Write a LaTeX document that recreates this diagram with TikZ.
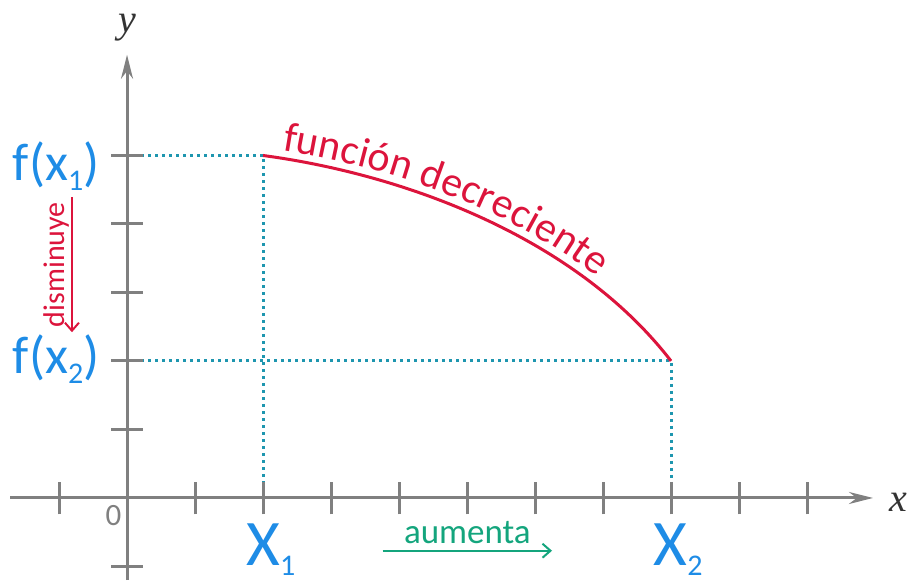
\documentclass[tikz,border=0pt]{standalone}
\usepackage{fontspec}
\usepackage{tikz}
\usetikzlibrary{positioning,arrows.meta,decorations.text}
\newfontfamily\calib{Carlito}
\newfontfamily\tms{Liberation Serif}
\definecolor{axisgray}{RGB}{128,128,128}
\definecolor{lblblue}{RGB}{30,140,230}
\definecolor{curvered}{RGB}{220,20,60}
\definecolor{dotteal}{RGB}{30,150,175}
\definecolor{txtgreen}{RGB}{20,165,125}
\newcommand{\lsub}[1]{\raisebox{-5pt}{\fontsize{15}{15}\selectfont #1}}
\tikzset{
  axis/.style  ={draw=axisgray, line width=1.5pt},
  axtip/.style ={-{Stealth[length=12pt,width=6pt]}},
  guide/.style ={draw=dotteal, line width=1.5pt, dash pattern=on 1.5pt off 2pt},
  curve/.style ={draw=curvered, line width=1.5pt},
  flbl/.style  ={font=\calib\fontsize{26.5}{28}\selectfont, text=lblblue, inner sep=0pt},
  xlbl/.style  ={font=\calib\fontsize{32.5}{34}\selectfont, text=lblblue, inner sep=0pt},
  axlbl/.style ={font=\tms\itshape\fontsize{20}{22}\selectfont, text=black!80, inner sep=0pt},
  redarr/.style={{Straight Barb[length=4pt,width=7pt]}-, draw=curvered, line width=1pt},
  grnarr/.style={-{Straight Barb[length=4pt,width=7pt]}, draw=txtgreen, line width=1pt},
}

\begin{document}
\begin{tikzpicture}[x=34pt,y=34.25pt]
\useasboundingbox (-1.868,-1.285) rectangle (11.544,7.270);
\coordinate (O)  at (0,0);
\coordinate (P1) at (2,5);
\coordinate (P2) at (8,2);
\coordinate (A1) at (2,0);
\coordinate (A2) at (8,0);
\coordinate (B1) at (0,5);
\coordinate (B2) at (0,2);

% dotted guides
\draw[guide] (B1) -- (P1) -- (A1);
\draw[guide] (B2) -- (P2) -- (A2);

% axes and ticks
\coordinate (xs) at (-1.72,0);  \coordinate (xe) at (10.97,0);
\coordinate (ys) at (0,-1.2);   \coordinate (ye) at (0,6.47);
\draw[axis,axtip] (xs) -- (xe);
\draw[axis,axtip] (ys) -- (ye);
\foreach \i in {-1,1,2,...,10} \draw[axis] (\i,-0.24) -- (\i,0.24);
\foreach \j in {-1,1,2,...,5} \draw[axis] (-0.23,\j) -- (0.23,\j);

\node[axlbl] (ylab) at (0,6.87) {y};
\node[axlbl] (xlab) at (11.34,-0.06) {x};
\node[font=\calib\fontsize{15.5}{16}\selectfont, text=axisgray] (zero) at (-0.2,-0.25) {0};

% labels on the axes
\node[flbl,anchor=base east] (fx1) at (-0.40,4.64) {f(x\lsub{1})};
\node[flbl,anchor=base east] (fx2) at (-0.40,1.81) {f(x\lsub{2})};
\node[xlbl,anchor=base west] (X1) at (1.75,-0.98) {X\lsub{1}};
\node[xlbl,anchor=base west] (X2) at (7.74,-0.98) {X\lsub{2}};

% decreasing curve
\draw[curve] (P1) .. controls (4.1,4.72) and (6.6,3.8) .. (P2);
\path[decorate,decoration={text along path,
   text={|\calib\fontsize{21}{21}\selectfont\color{curvered}|función decreciente},
   raise=4pt, text align={left indent=9pt}}]
   (P1) .. controls (4.1,4.72) and (6.6,3.8) .. (P2);

% arrows: y decreases, x increases
\coordinate (d1) at (-0.81,4.39); \coordinate (d2) at (-0.81,2.42);
\draw[redarr] (d2) -- (d1) node[midway,sloped,above=1pt,inner sep=0pt,
   font=\calib\fontsize{15}{16}\selectfont,text=curvered] (dism) {disminuye};
\coordinate (a1) at (3.76,-0.77); \coordinate (a2) at (6.25,-0.77);
\draw[grnarr] (a1) -- (a2) node[midway,above=3pt,inner sep=0pt,
   font=\calib\fontsize{17.5}{18}\selectfont,text=txtgreen] (aum) {aumenta};
\end{tikzpicture}
\end{document}
